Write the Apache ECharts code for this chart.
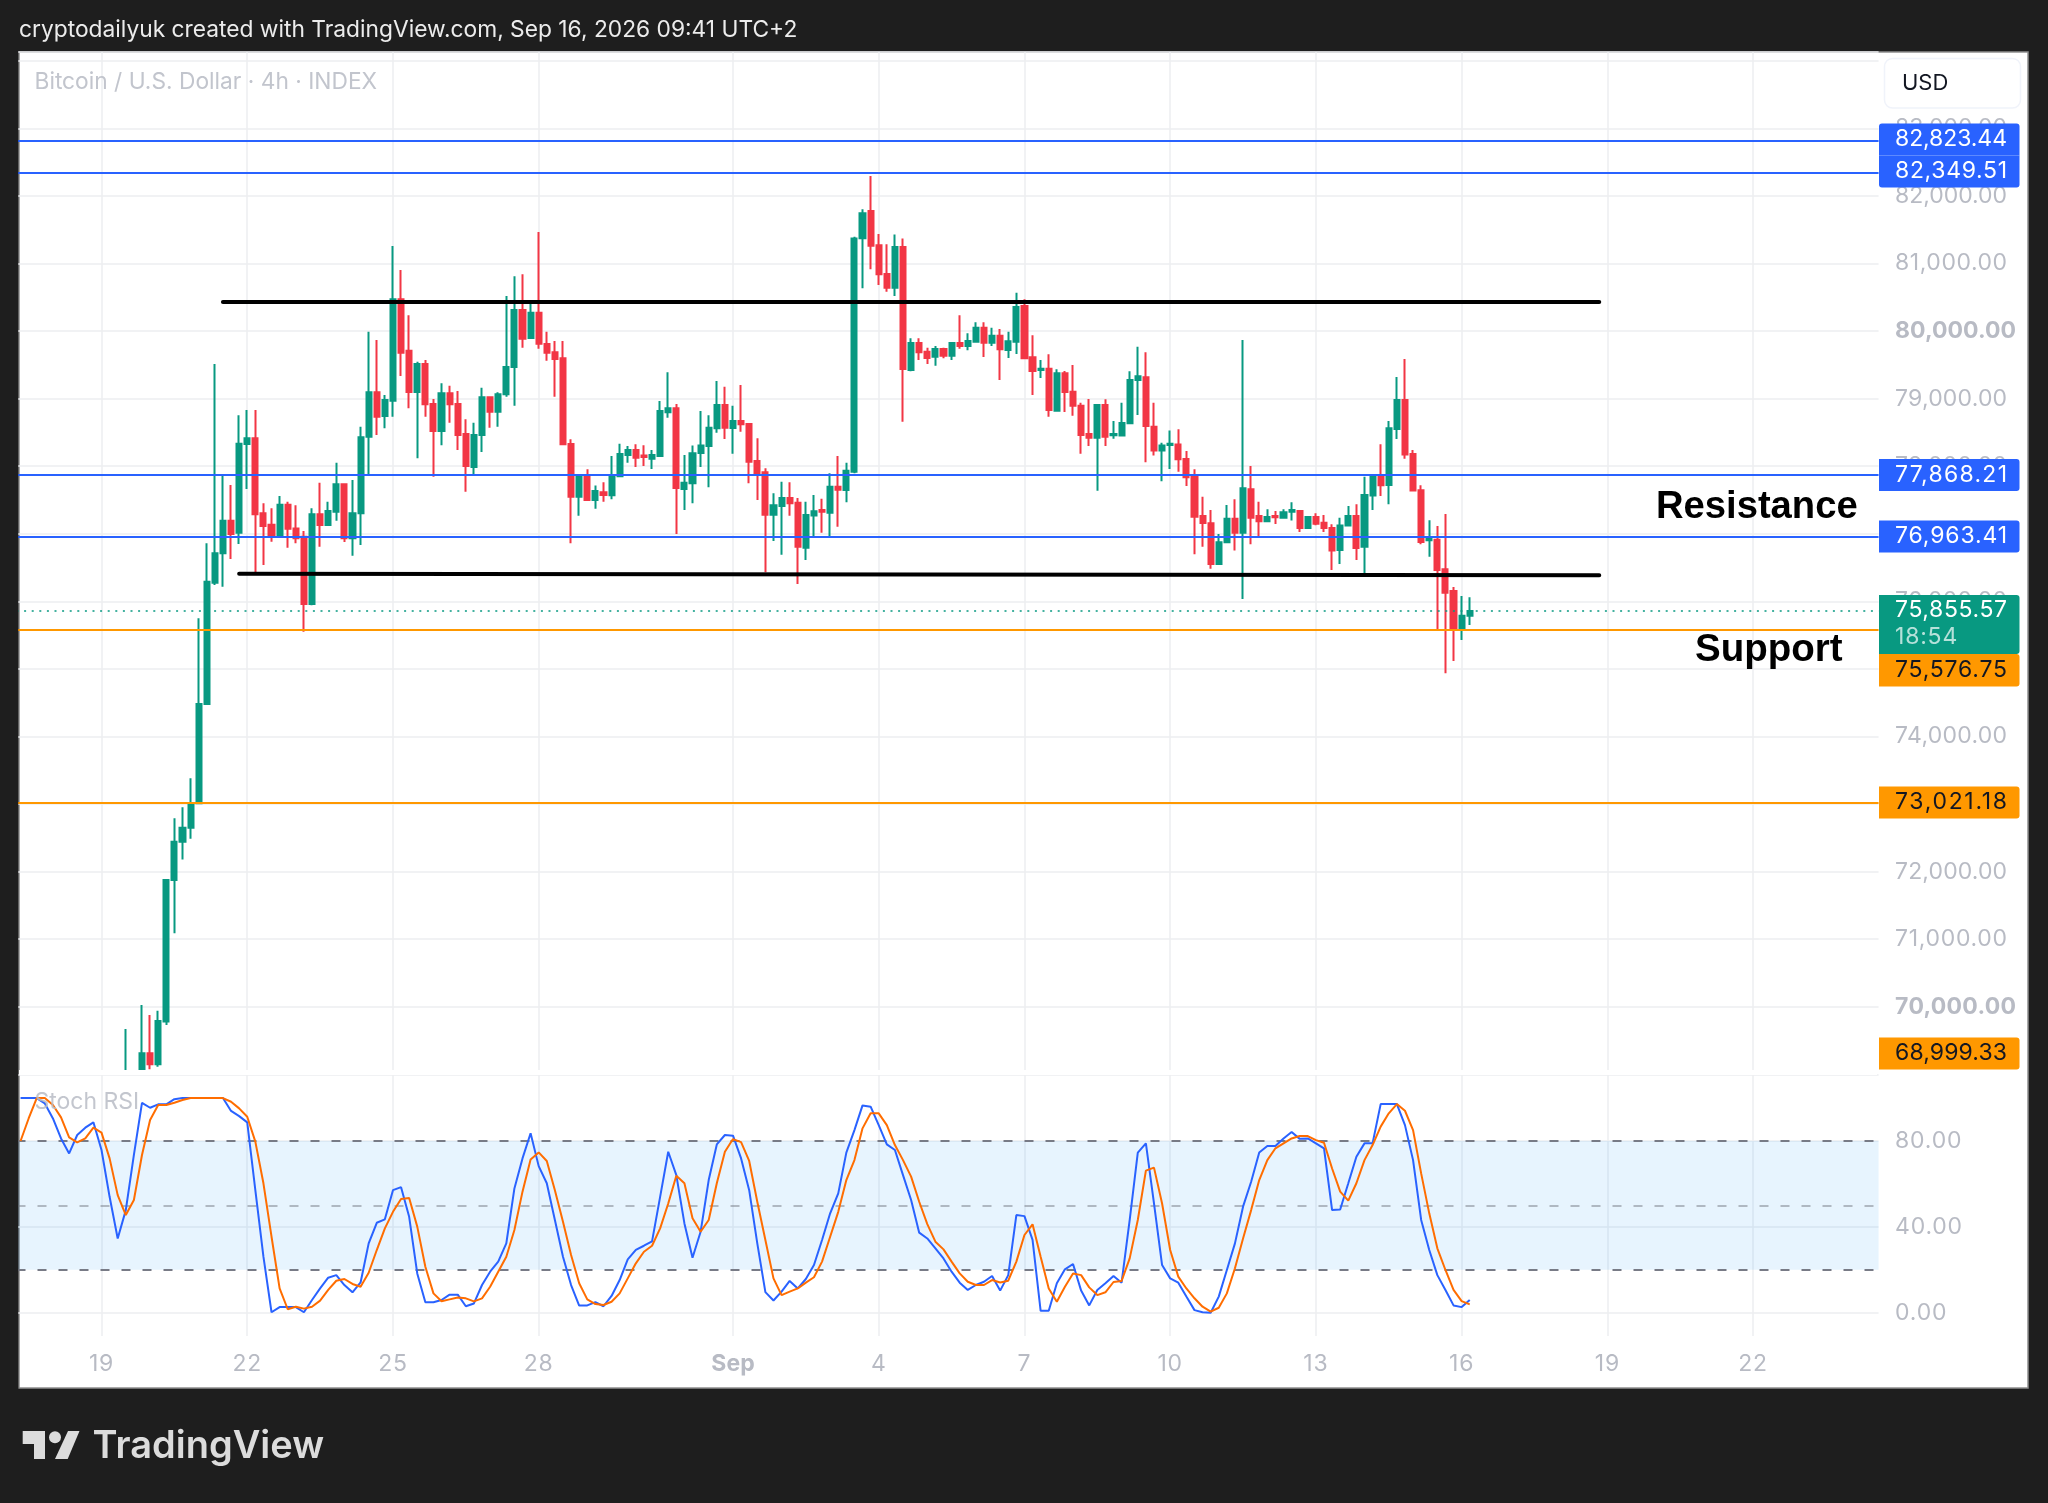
<!DOCTYPE html>
<html>
<head>
<meta charset="utf-8">
<style>html,body{margin:0;padding:0;background:#1e1e1e}#c{width:2048px;height:1503px}</style>
<script src="https://cdn.jsdelivr.net/npm/echarts@6/dist/echarts.min.js"></script>
</head>
<body>
<div id="c"></div>
<script>
// ---- data ----
const barCount = 230;
const firstCandleIndex = 13;
const dayTicks = {10:'19',28:'22',46:'25',64:'28',88:'Sep',106:'4',124:'7',142:'10',160:'13',178:'16',196:'19',214:'22'};

const opens = [69010,68700,69073,69310,69147,69780,71875,72443,72650,73010,74481,76277,76711,77194,77017,78330,78413,77303,77135,76968,77431,77080,76958,75961,77288,77130,77328,77732,76933,77303,78438,79094,78744,78971,80471,79711,79099,79513,78921,78522,79079,78921,78477,77989,78463,79020,78808,79064,79469,80313,79898,80273,79809,79686,79597,78329,77550,77841,77500,
77614,77569,77851,78167,78240,78157,78112,78152,78798,78857,77663,77747,78196,78300,78561,78906,78566,78670,78625,78078,77910,77283,77411,77530,77461,76795,77269,77352,77313,77698,77648,77920,81374,81778,81270,80846,80643,81245,79425,79824,79696,79622,79735,79637,79824,79780,79844,80051,79829,79933,79721,79844,80372,79612,79425,79444,78823,79375,79104,78897,78477,78423,
78907,78458,78453,78635,79277,79316,78586,78231,78315,78320,78108,77841,77264,77155,76553,76874,77224,77017,77658,77264,77185,77264,77239,77328,77338,77086,77249,77165,77086,76761,77121,77264,76810,77565,77846,77723,78552,78981,78182,77644,76904,76913,76474,76154,75586,75788];
const closes = [69030,68750,69310,69147,69788,71875,72443,72650,73010,74481,76292,76711,77194,76997,78334,78413,77288,77115,76968,77431,77076,76933,75961,77288,77130,77337,77732,76933,77303,78428,79094,78734,78981,80471,79681,79099,79513,78916,78522,79079,78916,78463,78004,78463,79020,78808,79064,79469,80313,79888,80273,79814,79681,79587,78324,77550,77841,77500,77634,
77574,77870,78181,78240,78127,78137,78167,78818,78857,77678,77757,78191,78305,78571,78906,78571,78670,78620,78068,77900,77283,77421,77530,77451,76810,77278,77333,77328,77698,77653,77934,81369,81744,81265,80841,80643,81245,79439,79824,79686,79602,79735,79637,79824,79780,79854,80051,79829,79933,79730,79849,80357,79597,79410,79444,78833,79375,79099,78897,78463,78423,78906,
78438,78478,78640,79277,79331,78596,78231,78305,78334,78103,77836,77254,77160,76553,76874,77224,77017,77673,77239,77185,77249,77244,77318,77353,77086,77249,77150,77086,76751,77121,77264,76790,77575,77846,77718,78561,78981,78172,77639,76879,76923,76465,76129,75586,75788,75855.57];
const lows = [69005,68600,69060,69073,69112,69729,71086,72181,72487,73000,74470,76242,76217,76627,76849,77663,76415,76538,76884,76960,76795,76859,75551,75941,76810,77115,77194,76879,76676,76834,77856,78462,78561,78734,79336,78857,78117,78734,77846,78309,78645,78240,77624,77885,78211,78571,78586,79030,78897,79755,79888,79740,79563,79030,78314,76859,77268,77495,77372,
77475,77510,77851,78053,77989,78004,77959,78152,78719,76997,77352,77451,77989,77688,78497,78403,78186,78512,77747,77500,76430,76893,76691,77268,76257,76612,76958,77017,76968,77106,77466,77895,80633,80915,80683,80584,80520,78660,79405,79573,79513,79489,79597,79573,79740,79716,79844,79617,79780,79277,79602,79661,79587,79055,79306,78734,78823,78803,78749,78186,78300,77638,
78300,78408,78453,78635,78759,78058,78157,77777,77959,77920,77708,76696,76810,76484,76553,76874,76751,76035,76844,76968,77185,77145,77239,77195,77027,77086,77126,77027,76465,76553,77121,76612,76415,77353,77560,77437,78403,78112,77639,76844,76662,75586,74935,75118,75428,75650];
const highs = [69670,68800,70025,69877,69941,71880,72788,72951,73380,75749,76859,79513,77870,77722,78754,78833,78833,77451,77377,77560,77476,77421,77041,77377,77757,77476,78053,77747,77796,78586,79992,79869,79055,81260,80905,80234,79548,79573,78995,79227,79193,79114,78694,78645,79163,79030,79094,80520,80811,80841,80411,81467,79992,79854,79854,78398,77846,77954,77713,
77762,78152,78334,78300,78324,78309,78241,78966,79390,78921,78166,78305,78818,78754,79262,79178,78897,79202,78635,78413,77969,77599,77772,77762,77530,77476,77574,77520,77895,78152,78053,81398,81803,82296,81438,81285,81428,81369,79893,79893,79755,79780,79755,79834,80234,79967,80130,80130,80051,80031,79992,80569,80471,79938,79573,79656,79434,79410,79498,78941,78995,78906,
78991,78670,78941,79405,79770,79686,78941,78349,78527,78547,78226,77955,77550,77353,76997,77427,77510,79869,78004,77476,77362,77338,77362,77466,77353,77264,77303,77279,77140,77239,77412,77436,77846,77861,78325,78670,79321,79588,78241,77718,77200,77116,77293,76213,76080,76060];

const stochK = [100,100,100,97.5,90.5,81.2,74.2,82.8,86.2,88.7,75.8,54,34.6,47.8,73.5,97.8,95.5,97.1,97.1,99.5,100,100,100,100,100,100,94,91.6,88.7,57.1,26.1,0.2,2.6,2.6,2.6,0.2,5.9,11.3,16.3,17.5,12.9,9.5,14.1,32.3,41.9,43.5,57.1,58.5,44.7,18.3,4.9,4.9,5.9,8.4,8.4,3,4.3,12.9,19.1,23.8,32.3,57.9,71.9,83.6,68.3,60.3,43.2,26.1,12.9,3.3,3.4,4.9,3,7.8,15.2,24.8,29.3,31.2,33.2,54,75,64.1,41.6,25.6,37.7,
61.8,78.4,82.8,82.5,71.9,57.1,32.3,9.6,5.7,9.8,14.8,11.3,15.7,22.2,33.9,46.3,55.6,74.6,85.1,96.6,96,87.4,78.4,75.8,64.1,52.5,37.3,34.6,30,25.3,19.1,14,10.6,12.9,14.4,17.1,10.3,17.5,45.5,45,33.9,0.9,0.9,13.7,20.2,22.7,10.3,3.4,10.6,13.7,17.1,14,43.2,74.6,78.9,50.9,22.2,16,14,7.5,1.2,0.2,0,7.5,19.9,32.3,49.4,61,74.6,77.7,77.7,81.2,84.2,81,81.2,78.9,76.6,47.8,48.1,60.3,72.7,78.9,78.9,97.2,97.2,97.2,87.4,71.1,43.2,29.2,17.5,10.6,3.4,2.6,5.9];
const stochD = [80,90.5,100,100,96.8,91,81.7,79.4,81.2,86.2,83.9,71.9,54.8,45.5,52.5,73.5,89.8,96.8,96.8,97.8,99.1,100,100,100,100,100,98.3,95.2,91.3,79.7,60.3,35.4,11.3,1.6,2.8,1.9,2.8,5.6,10.6,14.9,15.7,13.4,12.1,18.6,29.2,39.3,47,53,53.4,40.1,21.4,9,5.3,6.2,7.1,6.7,5.3,6.7,12.1,19.1,26.1,38.5,56.4,71.4,74.7,70.7,57.1,42.4,26.9,13.7,6.2,4,3.6,5.1,9,16,23,28.4,31.2,39.3,50.9,63.8,60.3,44,37.7,
43.2,60.3,75,80.9,79.5,70.7,51.7,33.9,16,8.2,9.8,11.3,14,16.5,23.8,35.4,47,61.8,71.1,85.9,92.9,92.9,87.4,78.1,71.1,63.4,51.7,41.3,33.1,29.5,23.8,18.3,14.4,12.9,12.9,15.2,14.1,14.9,23.8,36.2,41.2,26.1,11.3,5.1,12.1,18.3,17.5,11.8,8.2,9.5,14.3,14.8,25.3,43.2,66.2,67.6,50.9,29.2,16.8,11.3,6.7,2.8,0.5,2.3,9,20.7,34.6,47.8,61.8,71.1,76.6,78.9,81.2,82.3,82.3,80.4,79.2,67.2,56.4,52.2,60.3,71.1,78.1,86.7,92.9,97.2,94.1,85.1,64.9,46.3,30,19.9,10.6,5.4,3.9];

const blueLevels = [82823.44,82349.51,77868.21,76963.41];
const orangeLevels = [75576.75,73021.18,68999.33];
const lastPrice = 75855.57;
const countdown = '18:54';
const resistanceLine = [[25,80436],[195,80436]];
const supportLine = [[27,76410],[195,76385]];
const stochTicks = [0,40,80];

// ---- layout (px) ----
const GRID_L = 16.5, GRID_W = 1862.08, PANE_R = 1877;
const C = {bg:'#1e1e1e',up:'#089981',down:'#F23645',blue:'#2962FF',orange:'#FF9800',stK:'#2962FF',stD:'#FF6D00',
  axis:'#b8bbc4',grid:'#eceef1'};
const FONT = 'Inter, "Noto Sans", sans-serif';
const labelSize = 23;

// price labels in the reference use wide tabular figures: track them out to the same width
const nativeFill = CanvasRenderingContext2D.prototype.fillText;
CanvasRenderingContext2D.prototype.fillText = function(t,x,y,m){
  this.letterSpacing='0px';
  if(/^\d\d,\d{3}\.\d\d$/.test(t)){
    const target=/(bold|700)/.test(this.font)?121:112;
    this.letterSpacing=((target-this.measureText(t).width)/8)+'px';
  } else if(/^[\d.:]+$/.test(t)){
    this.letterSpacing='0.8px';
  }
  nativeFill.call(this,t,x,y,m);
  this.letterSpacing='0px';
};

const categories = Array.from({length:barCount},(_,i)=>dayTicks[i]||'');
const candleData = categories.map((_,i)=>{
  const j=i-firstCandleIndex;
  return (j>=0&&j<opens.length)?[opens[j],closes[j],lows[j],highs[j]]:'-';
});
const isTick = i=>dayTicks[i]!==undefined;
const fmt = v=>v.toLocaleString('en-US',{minimumFractionDigits:2,maximumFractionDigits:2});

const hLine=(v,color,extra)=>({yAxis:v,lineStyle:Object.assign({color,width:1.8,type:'solid'},extra||{})});
const seg=(p)=>[{coord:[p[0][0],p[0][1]]},{coord:[p[1][0],p[1][1]]}];

// boxes at right: tops are layout, values come from the arrays above
const labelBoxes=[
 {v:blueLevels[0],y:123.5,h:32,fill:C.blue,tx:'#fff'},
 {v:blueLevels[1],y:155.5,h:32,fill:C.blue,tx:'#fff'},
 {v:blueLevels[2],y:459,h:32,fill:C.blue,tx:'#fff'},
 {v:blueLevels[3],y:520.5,h:32,fill:C.blue,tx:'#fff'},
 {v:orangeLevels[0],y:654,h:32.5,fill:C.orange,tx:'#131722'},
 {v:orangeLevels[1],y:786.5,h:32,fill:C.orange,tx:'#131722'},
 {v:orangeLevels[2],y:1037.5,h:32,fill:C.orange,tx:'#131722'},
];
const g=[];
const rect=(x,y,w,h,fill,z,r,stroke)=>g.push({type:'rect',z,silent:true,shape:{x,y,width:w,height:h,r:r||0},style:{fill,stroke:stroke||null,lineWidth:stroke?1.5:0}});
const text=(t,x,y,font,fill,z,align)=>g.push({type:'text',z,silent:true,style:{text:t,x,y,font,fill,textAlign:align||'left',textVerticalAlign:'middle'}});
// page frame
rect(19,52,2009,1336,'#ffffff',-10,0,'#8f8f8f');
// left cover and pane separator
rect(0,0,18.2,1503,C.bg,60);
rect(19,1070,PANE_R-19,5,'#ffffff',60);
labelBoxes.forEach(b=>{
  rect(1879,b.y,140.5,b.h,b.fill,70,b.v===blueLevels[0]?[3,3,0,0]:(b.v===blueLevels[1]?[0,0,3,3]:[0,3,3,0]));
  text(fmt(b.v),1895,b.y+b.h/2,labelSize+'px '+FONT,b.tx,71);
});
rect(1879,595,140.5,59,C.up,70,[0,3,3,0]);
text(fmt(lastPrice),1895,610,labelSize+'px '+FONT,'#ffffff',71);
text(countdown,1895,637,labelSize+'px '+FONT,'rgba(255,255,255,0.7)',71);
rect(1884.5,58.5,136,49.5,'#ffffff',70,8,'#f0f3fa');
text('USD',1902,83,'22px '+FONT,'#131722',71);
text('cryptodailyuk created with TradingView.com, Sep 16, 2026 09:41 UTC+2',19,30,'22.77px '+FONT,'#ececec',71);
text('Bitcoin / U.S. Dollar · 4h · INDEX',34.5,82.5,'22.75px '+FONT,'#c2c5cd',71);
text('Stoch RSI',34.5,1102,'23px '+FONT,'rgba(185,188,197,0.85)',71);
text('Resistance',1656,507.5,'bold 38.2px "Liberation Sans", Arial, sans-serif','#000000',71);
text('Support',1695,650.5,'bold 38.5px "Liberation Sans", Arial, sans-serif','#000000',71);
// TradingView logo
const logo='#dcdcdc';
g.push({type:'polygon',z:71,silent:true,shape:{points:[[22.7,1431],[45,1431],[45,1459],[34,1459],[34,1444],[22.7,1444]]},style:{fill:logo}});
g.push({type:'circle',z:71,silent:true,shape:{cx:55,cy:1437.3,r:6},style:{fill:logo}});
g.push({type:'polygon',z:71,silent:true,shape:{points:[[68,1431],[79.5,1431],[67.7,1459],[55,1459]]},style:{fill:logo}});
text('TradingView',92.5,1447,'600 38px '+FONT,logo,71);

const chart=echarts.init(document.getElementById('c'),null,{renderer:'canvas',width:2048,height:1503});
chart.setOption({
  animation:false,
  backgroundColor:C.bg,
  graphic:{elements:g},
  grid:[
    {left:GRID_L,width:GRID_W,top:52,height:1022.3,containLabel:false},
    {left:GRID_L,width:GRID_W,top:1075,height:261,containLabel:false}
  ],
  xAxis:[
    {type:'category',gridIndex:0,data:categories,boundaryGap:true,
     axisLine:{show:false},axisTick:{show:false,alignWithLabel:true},axisLabel:{show:false},
     splitLine:{show:true,alignWithLabel:true,interval:i=>isTick(i),lineStyle:{color:C.grid,width:1.5}}},
    {type:'category',gridIndex:1,data:categories,boundaryGap:true,
     axisLine:{show:false},axisTick:{show:false,alignWithLabel:true},
     axisLabel:{show:true,interval:i=>isTick(i),margin:17,color:C.axis,fontFamily:FONT,fontSize:labelSize,
       hideOverlap:false,
       formatter:v=>v==='Sep'?'{b|Sep}':v,rich:{b:{fontWeight:700,color:C.axis,fontFamily:FONT,fontSize:labelSize}}},
     splitLine:{show:true,alignWithLabel:true,interval:i=>isTick(i),lineStyle:{color:C.grid,width:1.5}}}
  ],
  yAxis:[
    {type:'value',gridIndex:0,position:'right',min:69000,max:84131,interval:1000,
     axisLine:{show:false},axisTick:{show:false},
     splitLine:{show:true,lineStyle:{color:C.grid,width:1.5}},
     axisLabel:{show:true,margin:16.5,align:'left',color:C.axis,fontFamily:FONT,fontSize:labelSize,
       formatter:v=>{
         if(v<70000||v>=84000) return '';
         const s=fmt(v);
         return v%10000===0?'{b|'+s+'}':s;
       },
       rich:{b:{fontWeight:700,color:C.axis,fontFamily:FONT,fontSize:labelSize}}}},
    {type:'value',gridIndex:1,position:'right',min:-10.86,max:110.76,
     axisLine:{show:false},axisTick:{show:false,customValues:stochTicks},
     splitLine:{show:true,lineStyle:{color:C.grid,width:1.5}},
     axisLabel:{show:true,customValues:stochTicks,margin:16.5,align:'left',color:C.axis,fontFamily:FONT,fontSize:labelSize,
       formatter:v=>v.toFixed(2)}}
  ],
  series:[
    {type:'candlestick',xAxisIndex:0,yAxisIndex:0,data:candleData,barWidth:5.6,clip:true,
     itemStyle:{color:C.up,color0:C.down,borderColor:C.up,borderColor0:C.down,borderWidth:2},
     markLine:{silent:true,symbol:'none',animation:false,label:{show:false},precision:2,
       data:[
         ...blueLevels.map(v=>hLine(v,C.blue)),
         ...orangeLevels.map(v=>hLine(v,C.orange)),
         hLine(lastPrice,C.up,{type:[2,5.6],width:1.5}),
         [Object.assign(seg(resistanceLine)[0],{lineStyle:{color:'#000',width:4,type:'solid',cap:'round'}}),seg(resistanceLine)[1]],
         [Object.assign(seg(supportLine)[0],{lineStyle:{color:'#000',width:4,type:'solid',cap:'round'}}),seg(supportLine)[1]]
       ]}},
    {type:'line',xAxisIndex:1,yAxisIndex:1,data:stochK,showSymbol:false,symbol:'none',z:4,lineStyle:{color:C.stK,width:2},
     markArea:{silent:true,z:1,itemStyle:{color:'rgba(33,150,243,0.105)'},data:[[{yAxis:20},{yAxis:80}]]},
     markLine:{silent:true,symbol:'none',animation:false,z:3,label:{show:false},
       data:[
         {yAxis:80,lineStyle:{color:'#787B86',width:2,type:[9,12]}},
         {yAxis:50,lineStyle:{color:'rgba(120,123,134,0.5)',width:2,type:[9,12]}},
         {yAxis:20,lineStyle:{color:'#787B86',width:2,type:[9,12]}}
       ]}},
    {type:'line',xAxisIndex:1,yAxisIndex:1,data:stochD,showSymbol:false,symbol:'none',z:5,lineStyle:{color:C.stD,width:2}}
  ]
});
</script>
</body>
</html>
